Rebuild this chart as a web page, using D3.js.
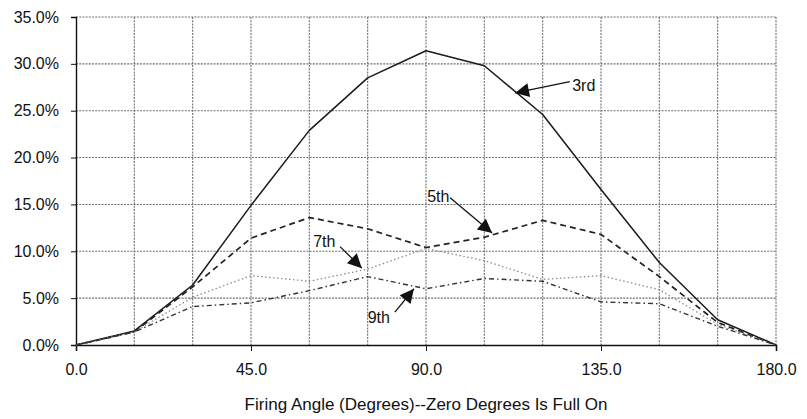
<!DOCTYPE html>
<html>
<head>
<meta charset="utf-8">
<style>
  body { margin: 0; background: #fff; }
  text { font-family: "Liberation Sans", Arial, sans-serif; fill: #111; }
</style>
</head>
<body>
<svg id="chart"></svg>
<script src="https://cdn.jsdelivr.net/npm/d3@7"></script>
<script>
// firing angle in degrees, harmonic content in percent
var angles = [0, 15, 30, 45, 60, 75, 90, 105, 120, 135, 150, 165, 180];
var third   = [0, 1.5, 6.4, 14.9, 22.9, 28.5, 31.4, 29.8, 24.6, 16.6, 8.8, 2.7, 0];
var fifth   = [0, 1.4, 6.2, 11.4, 13.6, 12.4, 10.4, 11.5, 13.3, 11.8, 7.3, 2.4, 0];
var seventh = [0, 1.4, 5.1, 7.4, 6.8, 8.1, 10.3, 9.0, 7.0, 7.4, 5.9, 2.2, 0];
var ninth   = [0, 1.4, 4.1, 4.5, 5.8, 7.3, 6.0, 7.1, 6.8, 4.6, 4.4, 2.0, 0];

var xTicks = [0, 45, 90, 135, 180];
var xGrid = [0, 15, 30, 45, 60, 75, 90, 105, 120, 135, 150, 165, 180];
var yTicks = [0, 5, 10, 15, 20, 25, 30, 35];
var xTitle = "Firing Angle (Degrees)--Zero Degrees Is Full On";

// callouts: text position, arrow tail and tip, all in data units
var notes = [
  {label: "3rd", text: [127.6, 27.1], tail: [127.0, 28.1], tip: [112.9, 26.9]},
  {label: "5th", text: [90.3, 15.3], tail: [96.2, 15.7], tip: [107.0, 11.95]},
  {label: "7th", text: [61.0, 10.5], tail: [67.9, 10.5], tip: [73.5, 8.2]},
  {label: "9th", text: [75.0, 2.4], tail: [82.0, 3.5], tip: [86.9, 6.0]}
];

var W = 807, H = 419;
var mLeft = 76, mRight = 776, mTop = 17, mBottom = 345;

var svg = d3.select("#chart").attr("width", W).attr("height", H);

var x = d3.scaleLinear().domain([0, 180]).range([mLeft, mRight]);
var y = d3.scaleLinear().domain([0, 35]).range([mBottom, mTop]);

// grid
var grid = svg.append("g")
  .attr("stroke", "#6e6e6e")
  .attr("stroke-width", 1.1)
  .attr("stroke-dasharray", "2,1.2");

grid.selectAll(".vg").data(xGrid.slice(1)).enter().append("line")
  .attr("x1", d => x(d)).attr("x2", d => x(d))
  .attr("y1", mTop).attr("y2", mBottom);

grid.selectAll(".hg").data(yTicks.slice(1)).enter().append("line")
  .attr("x1", mLeft).attr("x2", mRight)
  .attr("y1", d => y(d)).attr("y2", d => y(d));

// axes
var yAxis = d3.axisLeft(y).tickValues(yTicks).tickSize(5).tickPadding(12)
  .tickFormat(d => d.toFixed(1) + "%");
var gy = svg.append("g").attr("transform", "translate(" + mLeft + ",0)").call(yAxis);
gy.select(".domain").attr("stroke", "#111").attr("stroke-width", 1.4);
gy.selectAll("line").attr("stroke", "#111");
gy.selectAll("text").style("font-size", "16px").attr("fill", "#111");

var xAxis = d3.axisBottom(x).tickValues(xTicks).tickSize(6).tickPadding(13)
  .tickFormat(d => d.toFixed(1));
var gx = svg.append("g").attr("transform", "translate(0," + mBottom + ")").call(xAxis);
gx.select(".domain").attr("stroke", "#111").attr("stroke-width", 1.6);
gx.selectAll("line").attr("stroke", "#111");
gx.selectAll("text").style("font-size", "16px").attr("fill", "#111");

svg.append("text")
  .attr("x", (mLeft + mRight) / 2)
  .attr("y", 410)
  .attr("text-anchor", "middle")
  .style("font-size", "17px")
  .text(xTitle);

// series
var series = [
  {vals: third,   color: "#1a1a1a", width: 1.5, dash: null},
  {vals: fifth,   color: "#222",    width: 1.7, dash: "6,4"},
  {vals: seventh, color: "#8c8c8c", width: 1.3, dash: "1.5,2.5"},
  {vals: ninth,   color: "#333",    width: 1.4, dash: "5,3,1.5,3"}
];

var line = d3.line()
  .x((d, i) => x(angles[i]))
  .y(d => y(d));

svg.selectAll(".series").data(series).enter().append("path")
  .attr("fill", "none")
  .attr("stroke", d => d.color)
  .attr("stroke-width", d => d.width)
  .attr("stroke-dasharray", d => d.dash)
  .attr("stroke-linejoin", "round")
  .attr("d", d => line(d.vals));

// callouts
svg.append("defs").append("marker")
  .attr("id", "head")
  .attr("viewBox", "0 0 10 10")
  .attr("refX", 10).attr("refY", 5)
  .attr("markerWidth", 18).attr("markerHeight", 14)
  .attr("markerUnits", "userSpaceOnUse")
  .attr("orient", "auto")
  .append("path")
  .attr("d", "M0,0L10,5L0,10Z")
  .attr("fill", "#111");

var g = svg.append("g");
g.selectAll(".arrow").data(notes).enter().append("line")
  .attr("x1", d => x(d.tail[0])).attr("y1", d => y(d.tail[1]))
  .attr("x2", d => x(d.tip[0])).attr("y2", d => y(d.tip[1]))
  .attr("stroke", "#111").attr("stroke-width", 1.3)
  .attr("marker-end", "url(#head)");

g.selectAll(".lbl").data(notes).enter().append("text")
  .attr("x", d => x(d.text[0]))
  .attr("y", d => y(d.text[1]))
  .style("font-size", "16px")
  .text(d => d.label);
</script>
</body>
</html>
